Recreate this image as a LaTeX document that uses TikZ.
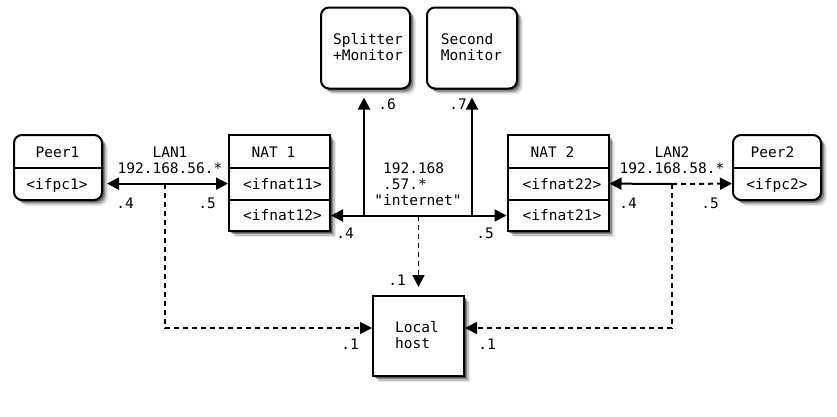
\documentclass[tikz,border=0pt]{standalone}
\usepackage{fontspec}
\setmonofont{DejaVu Sans Mono}
\usetikzlibrary{arrows.meta,shadows}
\begin{document}
\begin{tikzpicture}[x=1pt,y=-1pt,
  softshadow/.style={
    general shadow={shadow xshift=1.5pt,shadow yshift=-1.5pt,opacity=0.4,fill=black},
    general shadow={shadow xshift=3pt,shadow yshift=-3pt,opacity=0.3,fill=black},
    general shadow={shadow xshift=4.5pt,shadow yshift=-4.5pt,opacity=0.18,fill=black},
    general shadow={shadow xshift=6pt,shadow yshift=-6pt,opacity=0.08,fill=black}},
  box/.style={draw, line width=2pt, fill=white, inner sep=0pt, softshadow},
  rbox/.style={box, rounded corners=8pt},
  txt/.style={font=\ttfamily\fontsize{14.5}{16}\selectfont, inner sep=0pt, align=center},
  ltxt/.style={txt, align=left},
  divider/.style={line width=2pt},
  conn/.style={line width=2pt, -{Triangle[length=12pt,width=12pt]}},
  bconn/.style={line width=2pt, {Triangle[length=12pt,width=12pt]}-{Triangle[length=12pt,width=12pt]}},
  dsh/.style={line width=1.7pt, dash pattern=on 5pt off 4pt}
]
\useasboundingbox (0,0) rectangle (837,416);

% boxes
\node[rbox, minimum width=88pt, minimum height=65pt] (peer1) at (58,167.5) {};
\node[box, minimum width=101pt, minimum height=96pt] (nat1) at (279.5,183) {};
\node[box, minimum width=101pt, minimum height=96pt] (nat2) at (558,183) {};
\node[rbox, minimum width=88pt, minimum height=65pt] (peer2) at (777,167.5) {};
\node[rbox, minimum width=89pt, minimum height=81pt] (split) at (365.5,48) {};
\node[rbox, minimum width=90pt, minimum height=81pt] (second) at (472,48) {};
\node[box, minimum width=91pt, minimum height=80pt] (local) at (418.5,336) {};

% dividers
\draw[divider] (peer1.west |- 0,168) -- (peer1.east |- 0,168);
\draw[divider] (peer2.west |- 0,168) -- (peer2.east |- 0,168);
\draw[divider] (nat1.west |- 0,168) -- (nat1.east |- 0,168);
\draw[divider] (nat1.west |- 0,200) -- (nat1.east |- 0,200);
\draw[divider] (nat2.west |- 0,168) -- (nat2.east |- 0,168);
\draw[divider] (nat2.west |- 0,200) -- (nat2.east |- 0,200);

% box texts
\node[txt, anchor=base] (peer1t) at (57.5,157) {Peer1};
\node[txt, anchor=base] (pc1) at (57,189) {<ifpc1>};
\node[txt, anchor=base] (nat1t) at (273.5,157) {NAT 1};
\node[txt, anchor=base] (n11) at (282.5,189) {<ifnat11>};
\node[txt, anchor=base] (n12) at (282.5,220.5) {<ifnat12>};
\node[txt, anchor=base] (nat2t) at (552.5,157) {NAT 2};
\node[txt, anchor=base] (n22) at (562,189) {<ifnat22>};
\node[txt, anchor=base] (n21) at (562,220.5) {<ifnat21>};
\node[txt, anchor=base] (peer2t) at (772.5,157) {Peer2};
\node[txt, anchor=base] (pc2) at (777,189) {<ifpc2>};
\node[ltxt] (splitt) at (368,47) {Splitter\\+Monitor};
\node[ltxt] (secondt) at (471.5,47) {Second\\Monitor};
\node[ltxt] (localt) at (417,335) {Local\\host};

% junction coordinates
\coordinate (j1) at (165,184);
\coordinate (j2) at (672,184);
\coordinate (ji) at (local.north |- 0,215.5);

% connectors
\draw[bconn, shorten <=4pt] (peer1.east |- n11) -- (nat1.west |- n11);
\draw[bconn] (nat1.east |- 0,215.5) -- (nat2.west |- 0,215.5);
\draw[conn, shorten >=8pt] ([xshift=-1.5pt]split.south |- ji) -- ([xshift=-1.5pt]split.south);
\draw[conn, shorten >=8pt] (second.south |- ji) -- (second.south);
\draw[conn, dsh, shorten >=8pt] (ji) -- (local.north);
\draw[line width=2pt, {Triangle[length=12pt,width=12pt]}-] (nat2.east |- n22) -- (j2);
\draw[conn, dsh, line width=2pt] (j2) -- (peer2.west |- n22);
\draw[conn, dsh] (j1) |- ([yshift=8pt]local.west);
\draw[conn, dsh] (j2) |- ([yshift=8pt]local.east);

% labels
\node[txt] (lan1) at (170,160) {LAN1\\192.168.56.*};
\node[txt] (l14) at (125,203) {.4};
\node[txt] (l15) at (207,203) {.5};
\node[txt] (l6) at (387,104) {.6};
\node[txt] (l7) at (458,104) {.7};
\node[ltxt] (inet) at (418,184) {\hphantom{x}192.168\\\hphantom{x}.57.*\\"internet"};
\node[txt] (li4) at (345,233) {.4};
\node[txt] (li5) at (485,233) {.5};
\node[txt] (lt1) at (397,280) {.1};
\node[txt] (ll1) at (350,344) {.1};
\node[txt] (lr1) at (487,344) {.1};
\node[txt] (lan2) at (672,160) {LAN2\\192.168.58.*};
\node[txt] (l24) at (628,203) {.4};
\node[txt] (l25) at (710,203) {.5};
\end{tikzpicture}
\end{document}
